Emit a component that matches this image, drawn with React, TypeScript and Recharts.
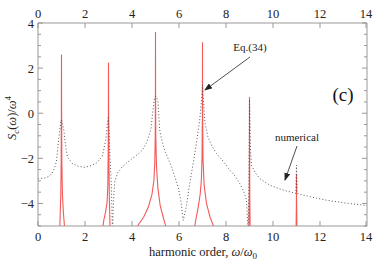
import { LineChart, Line, XAxis, YAxis } from 'recharts';

type Pt = { x: number; y: number | null };

// tick values
const xTicks = [0, 2, 4, 6, 8, 10, 12, 14];
const yTicks = [-5, -4.5, -4, -3.5, -3, -2.5, -2, -1.5, -1, -0.5, 0, 0.5, 1, 1.5, 2, 2.5, 3, 3.5, 4];

// Eq.(34) peaks at the odd harmonics
const peak1: Pt[] = [
  { x: 0.92, y: -5.3 }, { x: 0.95, y: -4.3 }, { x: 0.97, y: -3.6 }, { x: 0.985, y: -2.2 },
  { x: 0.995, y: 0 }, { x: 1.0, y: 2.6 }, { x: 1.005, y: 0 }, { x: 1.015, y: -2.2 },
  { x: 1.04, y: -3.6 }, { x: 1.08, y: -4.4 }, { x: 1.15, y: -5.3 },
];
const peak3: Pt[] = [
  { x: 2.72, y: -5.3 }, { x: 2.8, y: -4.75 }, { x: 2.88, y: -4.35 }, { x: 2.94, y: -3.95 },
  { x: 2.97, y: -3.2 }, { x: 2.988, y: -1.6 }, { x: 2.996, y: 0.3 }, { x: 3.0, y: 2.25 },
  { x: 3.004, y: 0.3 }, { x: 3.015, y: -1.8 }, { x: 3.035, y: -3.7 }, { x: 3.07, y: -5.3 },
];
const peak5: Pt[] = [
  { x: 4.06, y: -5.3 }, { x: 4.3, y: -4.9 }, { x: 4.5, y: -4.6 }, { x: 4.7, y: -4.15 },
  { x: 4.85, y: -3.6 }, { x: 4.93, y: -3.0 }, { x: 4.97, y: -2.2 }, { x: 4.99, y: -1.0 },
  { x: 4.997, y: 1.0 }, { x: 5.0, y: 3.6 }, { x: 5.003, y: 1.0 }, { x: 5.012, y: -1.0 },
  { x: 5.04, y: -2.3 }, { x: 5.1, y: -3.3 }, { x: 5.2, y: -4.1 }, { x: 5.35, y: -4.7 },
  { x: 5.52, y: -5.3 },
];
const peak7: Pt[] = [
  { x: 6.62, y: -5.3 }, { x: 6.72, y: -4.7 }, { x: 6.82, y: -4.15 }, { x: 6.9, y: -3.6 },
  { x: 6.95, y: -3.0 }, { x: 6.98, y: -2.0 }, { x: 6.995, y: 0 }, { x: 7.0, y: 3.15 },
  { x: 7.005, y: 0 }, { x: 7.02, y: -2.0 }, { x: 7.07, y: -3.2 }, { x: 7.17, y: -4.0 },
  { x: 7.32, y: -4.6 }, { x: 7.5, y: -5.1 }, { x: 7.58, y: -5.3 },
];
const peak9: Pt[] = [
  { x: 8.97, y: -5.3 }, { x: 8.99, y: -3.6 }, { x: 8.997, y: -1.2 }, { x: 9.0, y: 0.72 },
  { x: 9.003, y: -1.2 }, { x: 9.012, y: -3.6 }, { x: 9.03, y: -5.3 },
];
const peak11: Pt[] = [
  { x: 10.98, y: -5.3 }, { x: 10.995, y: -4.0 }, { x: 11.0, y: -2.7 }, { x: 11.005, y: -4.0 },
  { x: 11.02, y: -5.3 },
];

// numerical result (dotted)
const numerical: Pt[] = [
  { x: 0, y: -2.9 }, { x: 0.25, y: -2.88 }, { x: 0.47, y: -2.8 }, { x: 0.6, y: -2.65 },
  { x: 0.7, y: -2.45 }, { x: 0.78, y: -2.15 }, { x: 0.82, y: -1.77 }, { x: 0.89, y: -1.05 },
  { x: 0.97, y: -0.35 }, { x: 1.0, y: -0.3 }, { x: 1.1, y: -0.75 }, { x: 1.18, y: -1.5 },
  { x: 1.25, y: -1.93 }, { x: 1.46, y: -2.23 }, { x: 1.7, y: -2.35 }, { x: 2.0, y: -2.4 },
  { x: 2.27, y: -2.32 }, { x: 2.5, y: -2.2 }, { x: 2.74, y: -1.9 }, { x: 2.88, y: -1.2 },
  { x: 2.95, y: -0.5 }, { x: 3.0, y: -0.2 }, { x: 3.06, y: -1.8 }, { x: 3.12, y: -3.2 },
  { x: 3.17, y: -5.3 }, { x: 3.21, y: -3.9 }, { x: 3.27, y: -3.0 }, { x: 3.4, y: -2.62 },
  { x: 3.59, y: -2.37 }, { x: 3.8, y: -2.18 }, { x: 4.02, y: -2.0 }, { x: 4.25, y: -1.82 },
  { x: 4.44, y: -1.64 }, { x: 4.62, y: -1.3 }, { x: 4.8, y: -0.75 }, { x: 4.94, y: 0.58 },
  { x: 5.0, y: 0.75 }, { x: 5.1, y: 0.6 }, { x: 5.18, y: -0.75 }, { x: 5.28, y: -1.25 },
  { x: 5.39, y: -1.64 }, { x: 5.68, y: -2.37 }, { x: 5.96, y: -3.26 }, { x: 6.08, y: -3.9 },
  { x: 6.18, y: -4.75 }, { x: 6.31, y: -4.15 }, { x: 6.42, y: -3.35 }, { x: 6.53, y: -2.67 },
  { x: 6.74, y: -1.34 }, { x: 6.88, y: -0.31 }, { x: 6.98, y: 0.87 }, { x: 7.0, y: 1.25 },
  { x: 7.1, y: -0.4 }, { x: 7.23, y: -1.05 }, { x: 7.4, y: -1.45 }, { x: 7.59, y: -1.78 },
  { x: 7.9, y: -2.15 }, { x: 8.16, y: -2.52 }, { x: 8.4, y: -2.8 }, { x: 8.58, y: -3.11 },
  { x: 8.75, y: -3.45 }, { x: 8.87, y: -3.85 }, { x: 8.94, y: -5.3 }, { x: 8.98, y: -3.0 },
  { x: 9.0, y: 0.6 }, { x: 9.04, y: -1.6 }, { x: 9.08, y: -2.3 }, { x: 9.25, y: -2.65 },
  { x: 9.43, y: -2.89 }, { x: 9.86, y: -3.19 }, { x: 10.43, y: -3.41 }, { x: 10.97, y: -3.55 },
  { x: 11.0, y: -2.3 }, { x: 11.03, y: -3.56 }, { x: 11.5, y: -3.68 }, { x: 11.85, y: -3.77 },
  { x: 12.3, y: -3.86 }, { x: 12.7, y: -3.92 }, { x: 13.2, y: -4.0 }, { x: 13.83, y: -4.07 },
  { x: 14.0, y: -4.1 },
];

const peaks = [peak1, peak3, peak5, peak7, peak9, peak11];

const FONT = '"Liberation Serif", "Times New Roman", serif';
const TICK = '#999';
const fmt = (v: number) => (v < 0 ? `\u2212${-v}` : `${v}`);
const txt = { fontFamily: FONT, fontSize: 12.5, fill: '#222', stroke: 'none' };

const BottomTick = ({ x, y, payload }: any) => (
  <g>
    <line x1={x} x2={x} y1={y} y2={y - 5} stroke={TICK} />
    <text x={x} y={y + 15} textAnchor="middle" style={txt}>
      {fmt(payload.value)}
    </text>
  </g>
);

const TopTick = ({ x, y, payload }: any) => (
  <g>
    <line x1={x} x2={x} y1={y} y2={y + 5} stroke={TICK} />
    <text x={x} y={y - 5} textAnchor="middle" style={txt}>
      {fmt(payload.value)}
    </text>
  </g>
);

const LeftTick = ({ x, y, payload }: any) => {
  const major = payload.value % 2 === 0;
  return (
    <g>
      <line x1={x} x2={x + (major ? 5 : 3)} y1={y} y2={y} stroke={TICK} />
      {major && (
        <text x={x - 4} y={y + 4.5} textAnchor="end" style={txt}>
          {fmt(payload.value)}
        </text>
      )}
    </g>
  );
};

const RightTick = ({ x, y, payload }: any) => {
  const major = payload.value % 2 === 0;
  return <line x1={x} x2={x - (major ? 5 : 3)} y1={y} y2={y} stroke={TICK} />;
};

export default function App() {
  return (
    <div style={{ position: 'absolute', left: 0, top: 0, width: 374, height: 267, background: '#fff', fontFamily: FONT }}>
      <LineChart width={374} height={267} margin={{ top: 0, right: 0, bottom: 0, left: 0 }}>
        <XAxis
          type="number"
          dataKey="x"
          domain={[0, 14]}
          ticks={xTicks}
          height={41}
          tickSize={0}
          tickMargin={0}
          tickLine={false}
          stroke={TICK}
          tick={<BottomTick />}
        />
        <XAxis
          xAxisId="top"
          orientation="top"
          type="number"
          dataKey="x"
          domain={[0, 14]}
          ticks={xTicks}
          height={23}
          tickSize={0}
          tickMargin={0}
          tickLine={false}
          stroke={TICK}
          tick={<TopTick />}
        />
        <YAxis
          type="number"
          domain={[-5, 4]}
          ticks={yTicks}
          allowDataOverflow
          width={38}
          tickSize={0}
          tickMargin={0}
          tickLine={false}
          stroke={TICK}
          tick={<LeftTick />}
          interval={0}
        />
        <YAxis
          yAxisId="right"
          orientation="right"
          type="number"
          domain={[-5, 4]}
          ticks={yTicks}
          allowDataOverflow
          width={7}
          tickSize={0}
          tickMargin={0}
          tickLine={false}
          stroke={TICK}
          tick={<RightTick />}
          interval={0}
        />
        {/* invisible copy so the mirrored top/right axes get a series */}
        <Line
          xAxisId="top"
          yAxisId="right"
          data={numerical}
          dataKey="y"
          stroke="none"
          dot={false}
          isAnimationActive={false}
        />
        {peaks.map((p, i) => (
          <Line
            key={i}
            data={p}
            dataKey="y"
            type="linear"
            stroke="#f23c3c"
            strokeOpacity={0.85}
            strokeWidth={1.1}
            dot={false}
            isAnimationActive={false}
          />
        ))}
        <Line
          data={numerical}
          dataKey="y"
          type="linear"
          stroke="#444"
          strokeWidth={0.9}
          strokeDasharray="1 2.2"
          dot={false}
          isAnimationActive={false}
        />
      </LineChart>
      <svg
        width={374}
        height={267}
        style={{ position: 'absolute', left: 0, top: 0, pointerEvents: 'none', fontFamily: FONT }}
      >
        <defs>
          <marker id="ah" markerWidth="8" markerHeight="6" refX="7" refY="3" orient="auto" markerUnits="userSpaceOnUse">
            <path d="M0,0 L8,3 L0,6 Z" fill="#222" />
          </marker>
        </defs>
        <text transform="translate(16,118) rotate(-90)" textAnchor="middle" fontSize={12.5} fill="#222">
          <tspan fontStyle="italic">S</tspan>
          <tspan fontStyle="italic" fontSize={9} dy={3}>c</tspan>
          <tspan dy={-3}>(</tspan>
          <tspan fontStyle="italic">ω</tspan>
          <tspan>)/</tspan>
          <tspan fontStyle="italic">ω</tspan>
          <tspan fontSize={9} dy={-5}>4</tspan>
        </text>
        <text x={203} y={256} textAnchor="middle" fontSize={12.5} fill="#222">
          <tspan>harmonic order, </tspan>
          <tspan fontStyle="italic">ω</tspan>
          <tspan>/</tspan>
          <tspan fontStyle="italic">ω</tspan>
          <tspan fontSize={9} dy={3}>0</tspan>
        </text>
        <text x={343} y={101} textAnchor="middle" fontSize={19} fill="#111">(c)</text>
        <text x={250} y={51} textAnchor="middle" fontSize={11} fill="#222">Eq.(34)</text>
        <line x1={250} y1={57} x2={205} y2={90} stroke="#222" strokeWidth={0.8} markerEnd="url(#ah)" />
        <text x={297} y={141} textAnchor="middle" fontSize={11} fill="#222">numerical</text>
        <line x1={297} y1={146} x2={285} y2={180} stroke="#222" strokeWidth={0.8} markerEnd="url(#ah)" />
      </svg>
    </div>
  );
}
